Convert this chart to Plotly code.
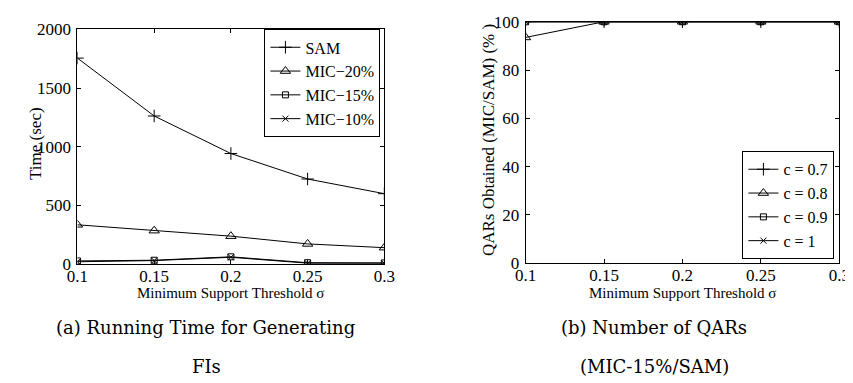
import plotly.graph_objects as go

support = [0.1, 0.15, 0.2, 0.25, 0.3]
x_ticks = [0.1, 0.15, 0.2, 0.25, 0.3]
x_tick_labels = ["0.1", "0.15", "0.2", "0.25", "0.3"]

# (a) running time (sec)
time_names = ["SAM", "MIC\u221220%", "MIC\u221215%", "MIC\u221210%"]
time_sam = [1755, 1262, 942, 725, 600]
time_mic20 = [335, 285, 238, 172, 140]
time_mic15 = [27, 33, 62, 12, 10]
time_mic10 = [20, 30, 58, 8, 8]
time_yticks = [0, 500, 1000, 1500, 2000]

# (b) QARs obtained (%)
qar_names = ["c = 0.7", "c = 0.8", "c = 0.9", "c = 1"]
qar_c07 = [100, 100, 100, 100, 100]
qar_c08 = [93.5, 100, 100, 100, 100]
qar_c09 = [100, 100, 100, 100, 100]
qar_c10 = [100, 100, 100, 100, 100]
qar_yticks = [0, 20, 40, 60, 80, 100]

symbols = ["cross-thin", "triangle-up-open", "square-open", "x-thin"]
sizes = [9, 9, 6, 6]

FONT = "Liberation Serif"
W, H = 853, 383

fig = go.Figure()

for name, ys, sym, sz in zip(time_names, [time_sam, time_mic20, time_mic15, time_mic10], symbols, sizes):
    fig.add_trace(go.Scatter(
        x=support, y=ys, name=name, mode="lines+markers",
        line=dict(color="black", width=1),
        marker=dict(symbol=sym, size=sz, color="black", line=dict(color="black", width=1)),
        xaxis="x", yaxis="y", legend="legend"))

for name, ys, sym, sz in zip(qar_names, [qar_c07, qar_c08, qar_c09, qar_c10], symbols, sizes):
    fig.add_trace(go.Scatter(
        x=support, y=ys, name=name, mode="lines+markers",
        line=dict(color="black", width=1),
        marker=dict(symbol=sym, size=sz, color="black", line=dict(color="black", width=1)),
        xaxis="x2", yaxis="y2", legend="legend2"))

def px_x(p):
    return p / W

def px_y(p):
    return 1 - p / H

axis_common = dict(
    showline=True, mirror="ticks", linecolor="black", linewidth=1,
    ticks="inside", ticklen=4, tickcolor="black", showgrid=False, zeroline=False,
    tickfont=dict(family=FONT, size=17, color="black"),
)

fig.update_layout(
    width=W, height=H,
    margin=dict(l=0, r=0, t=0, b=0),
    paper_bgcolor="white", plot_bgcolor="white",
    font=dict(family=FONT, size=17, color="black"),
    xaxis=dict(domain=[px_x(60), px_x(375)], range=[0.1, 0.3], tickvals=x_ticks,
               ticktext=x_tick_labels, anchor="y", ticklabelstandoff=-4, **axis_common),
    yaxis=dict(domain=[px_y(260), px_y(13)], range=[0, 2000], tickvals=time_yticks,
               anchor="x", ticklabelstandoff=2, **axis_common),
    xaxis2=dict(domain=[px_x(520), px_x(842)], range=[0.1, 0.3], tickvals=x_ticks,
                ticktext=x_tick_labels, anchor="y2", ticklabelstandoff=-4, **axis_common),
    yaxis2=dict(domain=[px_y(259), px_y(5)], range=[0, 100], tickvals=qar_yticks,
                anchor="x2", ticklabelstandoff=2, **axis_common),
    legend=dict(x=px_x(371), y=px_y(13), xanchor="right", yanchor="top",
                bgcolor="white", bordercolor="black", borderwidth=1,
                font=dict(family=FONT, size=16, color="black"),
                tracegroupgap=0, itemwidth=30),
    legend2=dict(x=px_x(837), y=px_y(255), xanchor="right", yanchor="bottom",
                 bgcolor="white", bordercolor="black", borderwidth=1,
                 font=dict(family=FONT, size=16, color="black"),
                 tracegroupgap=0, itemwidth=30),
    showlegend=True,
)

annots = [
    dict(text="Minimum Support Threshold \u03c3", x=px_x(217), y=px_y(290), size=15, angle=0, family=FONT),
    dict(text="Minimum Support Threshold \u03c3", x=px_x(681), y=px_y(290), size=15, angle=0, family=FONT),
    dict(text="Time (sec)", x=px_x(17), y=px_y(133), size=17, angle=-90, family=FONT),
    dict(text="QARs Obtained (MIC/SAM) (% )", x=px_x(482), y=px_y(130), size=17, angle=-90, family=FONT),
    dict(text="(a) Running Time for Generating", x=px_x(191), y=px_y(327), size=18, angle=0, family="DejaVu Serif"),
    dict(text="FIs", x=px_x(192), y=px_y(368), size=18, angle=0, family="DejaVu Serif"),
    dict(text="(b) Number of QARs", x=px_x(652), y=px_y(327), size=18, angle=0, family="DejaVu Serif"),
    dict(text="(MIC-15%/SAM)", x=px_x(652), y=px_y(368), size=18, angle=0, family="DejaVu Serif"),
]
for a in annots:
    fig.add_annotation(text=a["text"], x=a["x"], y=a["y"], xref="paper", yref="paper",
                       xanchor="center", yanchor="middle", showarrow=False, textangle=a["angle"],
                       font=dict(family=a["family"], size=a["size"], color="black"))

fig.write_html("out.html")
